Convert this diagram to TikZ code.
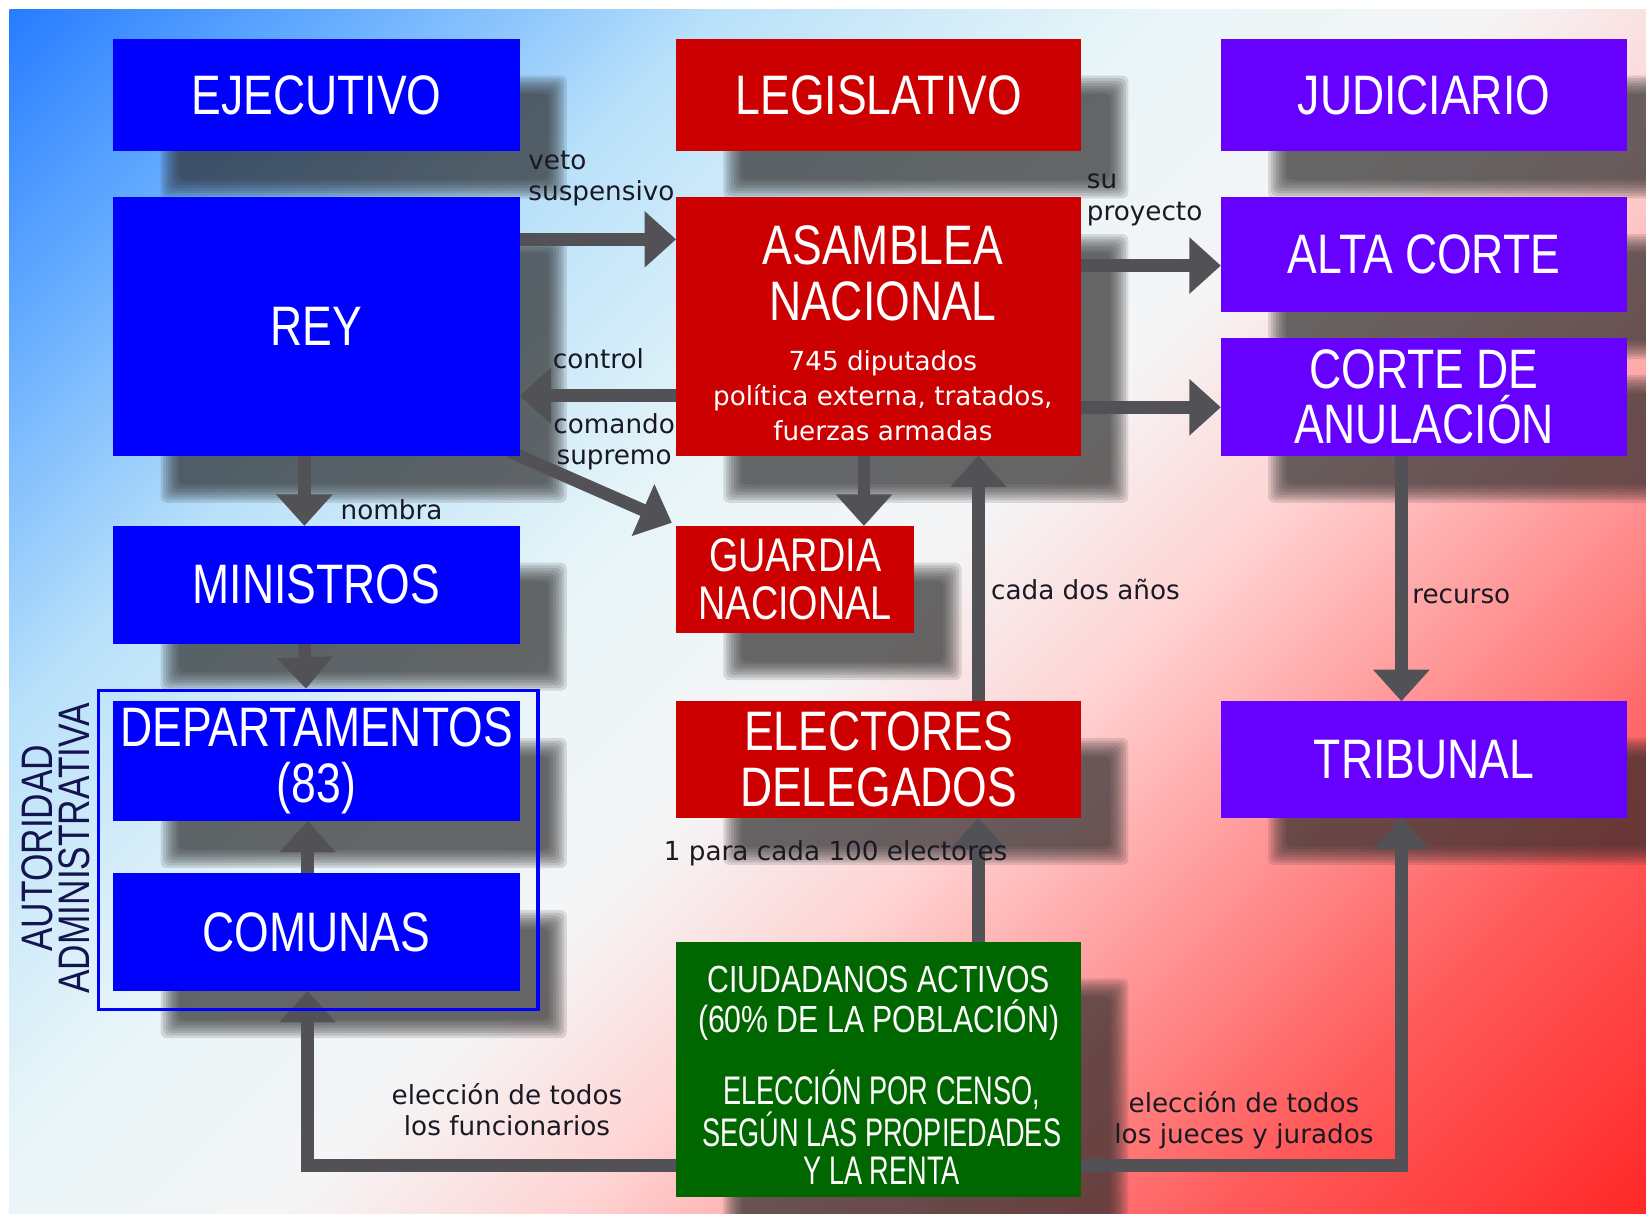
\documentclass[tikz,border=0pt]{standalone}
\usepackage{fontspec}
\newfontfamily\cf{Liberation Sans}[FakeStretch=0.8]
\newfontfamily\nf{Liberation Sans}[FakeStretch=0.68]
\newfontfamily\lf{DejaVu Sans}
\usetikzlibrary{arrows.meta}
\definecolor{boxblue}{RGB}{0,0,255}
\definecolor{boxred}{RGB}{204,0,0}
\definecolor{boxpurple}{RGB}{102,0,255}
\definecolor{boxgreen}{RGB}{0,102,0}
\definecolor{arrc}{RGB}{82,82,86}
\definecolor{labelc}{RGB}{25,25,35}
\definecolor{navyc}{RGB}{20,20,80}
\definecolor{shadowc}{RGB}{45,45,45}
\definecolor{g0}{RGB}{40,125,255}
\definecolor{g1}{RGB}{105,175,255}
\definecolor{g2}{RGB}{185,225,250}
\definecolor{g3}{RGB}{232,245,248}
\definecolor{g4}{RGB}{245,245,246}
\definecolor{g5}{RGB}{255,212,212}
\definecolor{g6}{RGB}{255,155,155}
\definecolor{g7}{RGB}{255,90,90}
\definecolor{g8}{RGB}{255,40,40}
\pgfdeclarehorizontalshading{bgsh}{100bp}{color(0bp)=(g0); color(14.6bp)=(g0); color(23.1bp)=(g1); color(32.3bp)=(g2); color(42.9bp)=(g3); color(51.4bp)=(g4); color(58.5bp)=(g5); color(66bp)=(g6); color(75bp)=(g7); color(85.4bp)=(g8); color(100bp)=(g8)}
\pgfdeclarelayer{bgl}
\pgfdeclarelayer{shl}
\pgfdeclarelayer{arl}
\pgfsetlayers{bgl,shl,arl,main}
\newcommand\dropshadow[4]{%
  \begin{pgfonlayer}{shl}
  \foreach \k in {0,...,7}{%
    \fill[shadowc, opacity=0.14, rounded corners=3pt] ({#1+45+2.5*\k},{#2+35+2.5*\k}) rectangle ({#3+45-2.5*\k},{#4+45-2.5*\k});
  }
  \end{pgfonlayer}}
\newcommand\cbox[7]{%
  \dropshadow{#2}{#3}{#4}{#5}
  \node[boxs, #6, minimum width={(#4-#2)*0.5pt}, minimum height={(#5-#3)*0.5pt}] (#1) at (#2,#3) {#7};}
\begin{document}
\begin{tikzpicture}[x=0.5pt,y=-0.5pt,
  boxs/.style={anchor=north west, inner sep=0pt, outer sep=0pt, text=white, align=center,
    font=\cf\fontsize{26.5}{26.5}\selectfont},
  bigw/.style={inner sep=0pt, text=white, align=center, font=\cf\fontsize{26.5}{26.5}\selectfont},
  smallw/.style={inner sep=0pt, text=white, align=center, font=\lf\fontsize{12.5}{16.5}\selectfont},
  ciudt/.style={inner sep=0pt, text=white, align=center, font=\cf\fontsize{18}{19}\selectfont},
  lab/.style={inner sep=0pt, text=labelc, font=\lf\fontsize{12.5}{15}\selectfont},
  arr/.style={draw=arrc, line width=6pt, -{Triangle[width=26pt,length=15pt]}},
  framebox/.style={draw=boxblue, line width=1.5pt, inner sep=0pt, anchor=north west}]
\useasboundingbox (0,0) rectangle (1568,1156);
\begin{pgfonlayer}{bgl}
\fill[white] (0,0) rectangle (1568,1156);
\shade[shading=bgsh, shading angle=-45] (9,9) rectangle (1568,1156);
\end{pgfonlayer}
% boxes
\cbox{ejec}{108}{37}{495}{144}{fill=boxblue}{EJECUTIVO}
\cbox{legis}{644}{37}{1030}{144}{fill=boxred}{LEGISLATIVO}
\cbox{judic}{1163}{37}{1550}{144}{fill=boxpurple}{JUDICIARIO}
\cbox{rey}{108}{188}{495}{434}{fill=boxblue}{REY}
\cbox{asam}{644}{188}{1030}{434}{fill=boxred}{}
\cbox{alta}{1163}{188}{1550}{297}{fill=boxpurple}{ALTA CORTE}
\cbox{anul}{1163}{322}{1550}{434}{fill=boxpurple}{CORTE DE\\ANULACIÓN}
\cbox{mini}{108}{501}{495}{613}{fill=boxblue}{MINISTROS}
\cbox{guard}{644}{501}{871}{603}{fill=boxred, font=\cf\fontsize{22.5}{23}\selectfont}{GUARDIA\\NACIONAL}
\cbox{dept}{108}{668}{495}{782}{fill=boxblue}{DEPARTAMENTOS\\(83)}
\cbox{comu}{108}{832}{495}{944}{fill=boxblue}{COMUNAS}
\cbox{elect}{644}{668}{1030}{779}{fill=boxred}{ELECTORES\\DELEGADOS}
\cbox{trib}{1163}{668}{1550}{779}{fill=boxpurple}{TRIBUNAL}
\cbox{ciud}{644}{897}{1030}{1140}{fill=boxgreen}{}
\node[framebox, minimum width={(511-92)*0.5pt}, minimum height={(960-656)*0.5pt}] (admin) at (92,656) {};
% texts inside composite boxes
\node[bigw] (asamA) at (841,260.5) {ASAMBLEA\\NACIONAL};
\node[smallw] (asamB) at (841,377) {745 diputados\\política externa, tratados,\\fuerzas armadas};
\node[ciudt] (ciudA) at (837,956) {CIUDADANOS ACTIVOS\\(60\% DE LA POBLACIÓN)};
\node[ciudt, font=\nf\fontsize{19}{18}\selectfont] (ciudB) at (840,1074) {ELECCIÓN POR CENSO,\\SEGÚN LAS PROPIEDADES\\Y LA RENTA};
\node[inner sep=0pt, rotate=90, text=navyc, align=center, font=\cf\fontsize{21}{17.5}\selectfont] (lauto) at (53,808) {AUTORIDAD\\ADMINISTRATIVA};
% arrows
\begin{pgfonlayer}{arl}
\draw[arr] ([yshift=41.5pt]rey.east) -- ([yshift=41.5pt]asam.west);
\draw[arr] ([yshift=29pt]asam.east) -- ([yshift=-5.25pt]alta.west);
\draw[arr] ([yshift=-38.5pt]asam.east) -- ([yshift=-5pt]anul.west);
\draw[arr] ([yshift=-33pt]asam.west) -- ([yshift=-33pt]rey.east);
\draw[arr] ([xshift=-5pt,yshift=2pt]rey.south east) -- ([xshift=-2pt,yshift=1.5pt]guard.north west);
\draw[arr] ([xshift=-5.75pt]rey.south) -- ([xshift=-5.75pt]mini.north);
\draw[arr] ([xshift=-5.75pt]mini.south) -- ([xshift=-5.75pt]admin.north);
\draw[arr] ([xshift=-4.25pt]comu.north) -- ([xshift=-4.25pt]dept.south);
\draw[arr] ([xshift=-7pt]asam.south) -- ([xshift=32.75pt]guard.north);
\draw[arr] ([xshift=47.5pt]elect.north) -- ([xshift=47.5pt]asam.south);
\draw[arr] ([xshift=47.5pt]ciud.north) -- ([xshift=47.5pt]elect.south);
\draw[arr] ([yshift=-45.75pt]ciud.west) -| ([xshift=-4.25pt]comu.south);
\draw[arr] ([yshift=-45.75pt]ciud.east) -| ([xshift=-10.75pt]trib.south);
\draw[arr] ([xshift=-10.75pt]anul.south) -- ([xshift=-10.75pt]trib.north);
\end{pgfonlayer}
% labels
\node[lab, anchor=west, align=left] (lveto) at (503,170) {veto\\suspensivo};
\node[lab, anchor=west, align=left] (lproy) at (1035,190.5) {su\\proyecto};
\node[lab] (lcontrol) at (570,342) {control};
\node[lab, align=center] (lcomando) at (585,421) {comando\\supremo};
\node[lab] (lnombra) at (373,486) {nombra};
\node[lab] (lcada) at (1034,562) {cada dos años};
\node[lab] (lrecurso) at (1392,568) {recurso};
\node[lab] (lelect) at (796,813) {1 para cada 100 electores};
\node[lab, align=center] (lfunc) at (483,1057) {elección de todos\\los funcionarios};
\node[lab, align=center] (ljueces) at (1185,1067) {elección de todos\\los jueces y jurados};
\end{tikzpicture}
\end{document}
